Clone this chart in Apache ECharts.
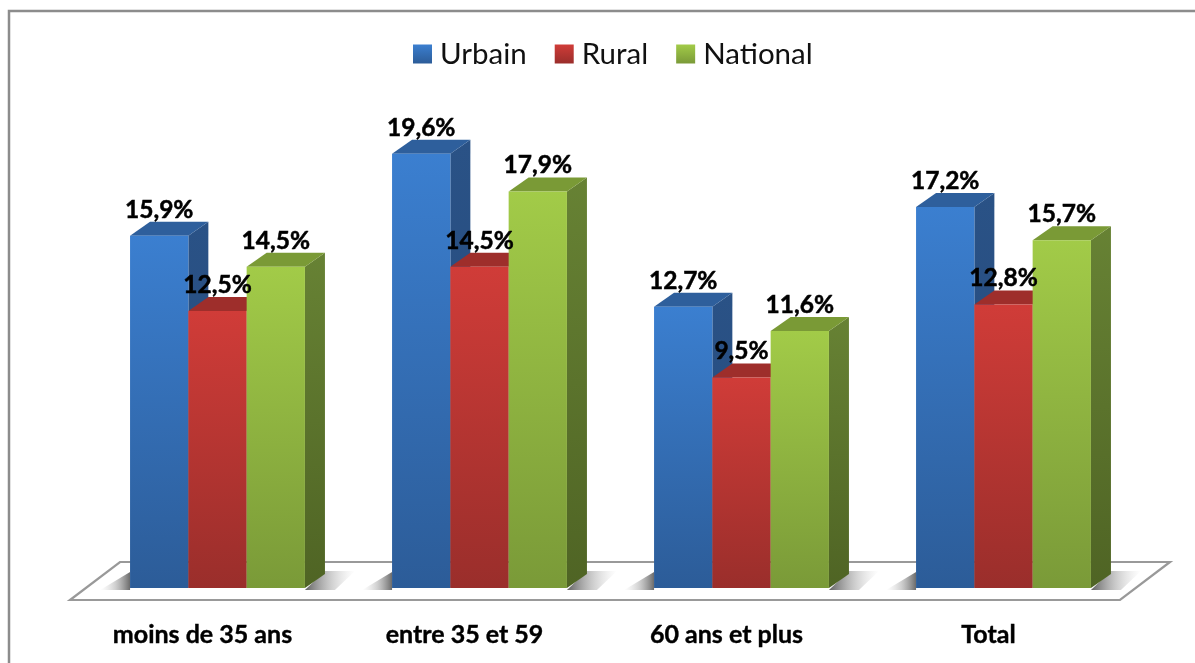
<!DOCTYPE html>
<html><head><meta charset="utf-8">
<style>html,body{margin:0;padding:0;background:#fff}#c{width:1195px;height:663px}</style>
<script src="https://cdn.jsdelivr.net/npm/echarts@6/dist/echarts.min.js"></script>
</head><body><div id="c"></div>
<script>
var categories = ['moins de 35 ans', 'entre 35 et 59', '60 ans et plus', 'Total'];
var urbain = [15.9, 19.6, 12.7, 17.2];
var rural = [12.5, 14.5, 9.5, 12.8];
var national = [14.5, 17.9, 11.6, 15.7];
var seriesNames = ['Urbain', 'Rural', 'National'];
var seriesData = [urbain, rural, national];
var palette = [
  {top:'#3b7fd0', bottom:'#2c5c98', side0:'#2a5286', side1:'#254a7c', cap:'#2e5f9c'},
  {top:'#d03c38', bottom:'#9a2e2b', side0:'#8b2a27', side1:'#7e2623', cap:'#9e2e2b'},
  {top:'#a2cb48', bottom:'#7a9a38', side0:'#678234', side1:'#4f6424', cap:'#7a9a36'}
];
var DX = 20, DY = -14, BAR_W = 58.3, SHIFT = 15;
function grad(a,b,hor){return new echarts.graphic.LinearGradient(0,0,hor?1:0,hor?0:1,[{offset:0,color:a},{offset:1,color:b}]);}

function barRender(si){
  return function(params, api){
    var base = api.coord([api.value(0), 0]);
    var top = api.coord([api.value(0), api.value(1)]);
    var x = base[0] + SHIFT + (si - 1.5) * BAR_W, y0 = base[1], y1 = top[1], p = palette[si];
    return {type:'group', children:[
      {type:'polygon', shape:{points:[[x+BAR_W,y1],[x+BAR_W+DX,y1+DY],[x+BAR_W+DX,y0+DY],[x+BAR_W,y0]]},
       style:{fill:grad(p.side0,p.side1)}},
      {type:'polygon', shape:{points:[[x,y1],[x+DX,y1+DY],[x+BAR_W+DX,y1+DY],[x+BAR_W,y1]]},
       style:{fill:p.cap}},
      {type:'rect', shape:{x:x,y:y1,width:BAR_W,height:y0-y1}, style:{fill:grad(p.top,p.bottom)}}
    ]};
  };
}
function labelRender(si){
  return function(params, api){
    var top = api.coord([api.value(0), api.value(1)]);
    var x = top[0] + SHIFT + (si - 1) * BAR_W;
    return {type:'text', style:{x:x, y:top[1]-26, text:api.value(1).toFixed(1).replace('.',',')+'%',
      fill:'#000', stroke:'#000', lineWidth:0.5, font:'bold 24.5px Lato', align:'center', verticalAlign:'middle'}};
  };
}
function floorRender(params, api){
  // floor plate, anchored to the chart's baseline and band width
  var o = api.coord([0,0]), half = api.size([1,0])[0]/2, l = o[0]-half-1.5, y = o[1];
  var w = 1050, fy = y+12, by = y-26, sh = 50;
  return {type:'polygon', shape:{points:[[l,fy],[l+w,fy],[l+w+sh,by],[l+sh,by]]},
     style:{fill:'#fff',stroke:'#999999',lineWidth:2.2,lineJoin:'miter'}};
}
function shadowRender(params, api){
  var c = api.coord([api.value(0),0]);
  var x0 = c[0]+SHIFT-1.5*BAR_W, x1 = c[0]+SHIFT+1.5*BAR_W, y=c[1];
  return {type:'group', children:[
    {type:'polygon', shape:{points:[[x1,y+2],[x1+20,y-17],[x1+50,y-17],[x1+30,y+2]]},
     style:{fill:new echarts.graphic.LinearGradient(0,0,1,0,[{offset:0,color:'rgba(70,70,70,0.85)'},{offset:0.5,color:'rgba(140,140,140,0.45)'},{offset:1,color:'rgba(190,190,190,0)'}])}},
    {type:'polygon', shape:{points:[[x0,y-16],[x0,y+2],[x0-30,y+2]]},
     style:{fill:new echarts.graphic.LinearGradient(1,0,0,0,[{offset:0,color:'rgba(70,70,70,0.8)'},{offset:0.5,color:'rgba(140,140,140,0.4)'},{offset:1,color:'rgba(190,190,190,0)'}])}}
  ]};
}
var series = [
  {type:'custom', name:'_floor', silent:true, z:1, renderItem:floorRender, data:[[0,0]], encode:{x:0,y:1}},
  {type:'custom', name:'_shadow', silent:true, z:2, renderItem:shadowRender, data:categories.map(function(c,i){return [i,0];}), encode:{x:0,y:1}}
];
seriesNames.forEach(function(n,si){
  series.push({type:'custom', name:n, z:3+si, renderItem:barRender(si),
    itemStyle:{color:grad(palette[si].top,palette[si].bottom)},
    data:seriesData[si].map(function(v,i){return [i,v];}), encode:{x:0,y:1}});
});
seriesNames.forEach(function(n,si){
  series.push({type:'custom', name:'_lab'+si, z:10, silent:true, renderItem:labelRender(si),
    data:seriesData[si].map(function(v,i){return [i,v];}), encode:{x:0,y:1}});
});
var chart = echarts.init(document.getElementById('c'), null, {renderer:'canvas'});
chart.setOption({
  animation:false,
  backgroundColor:'#fff',
  graphic:[{type:'rect', z:-1, shape:{x:9,y:11,width:1300,height:800}, style:{fill:'none',stroke:'#8c8c8c',lineWidth:2.5}, silent:true}],
  legend:{data:seriesNames, top:34, left:408, itemWidth:19, itemHeight:19, itemGap:28, icon:'rect',
    textStyle:{fontFamily:'Lato', fontSize:29.5, color:'#111', padding:[0,0,0,3]}, selectedMode:false},
  grid:{left:71.5, right:75.5, top:12, bottom:75},
  xAxis:{type:'category', data:categories, axisLine:{show:false}, axisTick:{show:false},
    axisLabel:{fontFamily:'Lato', fontWeight:'bold', fontSize:25, color:'#000', margin:34, interval:0, textBorderColor:'#000', textBorderWidth:0.4}},
  yAxis:{type:'value', min:0, max:26, show:false, splitLine:{show:false}},
  series:series
});
</script></body></html>
